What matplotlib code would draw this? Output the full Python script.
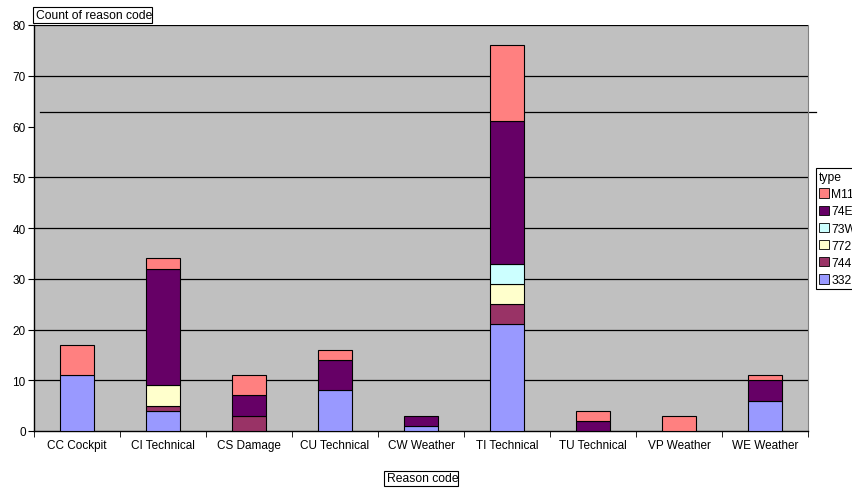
import numpy as np
import matplotlib.pyplot as plt
from matplotlib.patches import Patch, Rectangle

plt.rcParams["font.family"] = ["Liberation Sans", "DejaVu Sans"]
plt.rcParams["font.size"] = 8.5

# --------------------------------------------------
# data: counts per reason code, split by aircraft type
# --------------------------------------------------
reasons = ["CC Cockpit", "CI Technical", "CS Damage", "CU Technical",
           "CW Weather", "TI Technical", "TU Technical", "VP Weather",
           "WE Weather"]

types = ["332", "744", "772", "73W", "74E", "M11"]

t332 = [11, 4, 0, 8, 1, 21, 0, 0, 6]
t744 = [0, 1, 3, 0, 0, 4, 0, 0, 0]
t772 = [0, 4, 0, 0, 0, 4, 0, 0, 0]
t73W = [0, 0, 0, 0, 0, 4, 0, 0, 0]
t74E = [0, 23, 4, 6, 2, 28, 2, 0, 4]
tM11 = [6, 2, 4, 2, 0, 15, 2, 3, 1]

series = [t332, t744, t772, t73W, t74E, tM11]
colors = ["#9999FF", "#993366", "#FFFFCC", "#CCFFFF", "#660066", "#FF8080"]

# --------------------------------------------------
# figure
# --------------------------------------------------
W, H = 852, 489
fig = plt.figure(figsize=(W / 100, H / 100), dpi=100)
ax = fig.add_axes([34 / W, 1 - 432 / H, (808 - 34) / W, (432 - 26) / H])
ax.set_facecolor("#C0C0C0")

x = np.arange(len(reasons))
bottom = np.zeros(len(reasons))
for vals, c in zip(series, colors):
    vals = np.array(vals)
    mask = vals > 0
    ax.bar(x[mask], vals[mask], width=0.4, bottom=bottom[mask],
           color=c, edgecolor="black", linewidth=0.8, zorder=3)
    bottom += vals

ax.set_xlim(-0.5, len(reasons) - 0.5)
ax.set_ylim(0, 80)
ax.set_yticks(range(0, 81, 10))

# gridlines; the 60 line is drawn shifted and overlong further down
for v in [10, 20, 30, 40, 50, 70, 80]:
    ax.axhline(v, color="black", linewidth=0.9, zorder=1)
ax.plot([40 / W, 816 / W], [1 - 113 / H, 1 - 113 / H],
        transform=fig.transFigure, color="black", linewidth=0.9,
        clip_on=False, zorder=1)

ax.set_xticks(x)
ax.set_xticklabels(reasons)
ax.set_xticks(np.arange(-0.5, len(reasons)), minor=True)
ax.tick_params(axis="x", which="major", length=0, pad=6)
ax.tick_params(axis="x", which="minor", length=4, direction="out")
ax.tick_params(axis="y", length=4, direction="out", pad=2)

for s in ["left", "bottom"]:
    ax.spines[s].set_color("black")
    ax.spines[s].set_linewidth(1.0)
ax.spines["top"].set_visible(False)
ax.spines["right"].set_color("#808080")

# axis titles in boxes (text runs slightly past the box edge)
def boxed_title(x0, y0, x1, y1, tx, label):
    fig.add_artist(Rectangle((x0 / W, 1 - y1 / H), (x1 - x0) / W,
                             (y1 - y0) / H, transform=fig.transFigure,
                             facecolor="white", edgecolor="black",
                             linewidth=0.8))
    fig.text(tx / W, 1 - (y0 + y1) / 2 / H, label, ha="left",
             va="center", fontsize=8.7)

boxed_title(33, 8, 152, 24, 36, "Count of reason code")
boxed_title(384, 472, 458, 487, 387, "Reason code")

# legend, partly running off the right edge
handles = [Patch(facecolor=c, edgecolor="black", linewidth=0.6)
           for c in colors][::-1]
leg = fig.legend(handles, types[::-1], title="type", loc="upper left",
                 bbox_to_anchor=(816 / W, 1 - 169 / H), frameon=True,
                 fancybox=False, edgecolor="black", framealpha=1,
                 handlelength=0.8, handleheight=0.8, handletextpad=0.2,
                 labelspacing=0.43, borderpad=0.25, borderaxespad=0,
                 alignment="left", title_fontsize=8.7, fontsize=8.7)
leg.get_frame().set_linewidth(0.8)

fig.savefig("out.png", dpi=100)
